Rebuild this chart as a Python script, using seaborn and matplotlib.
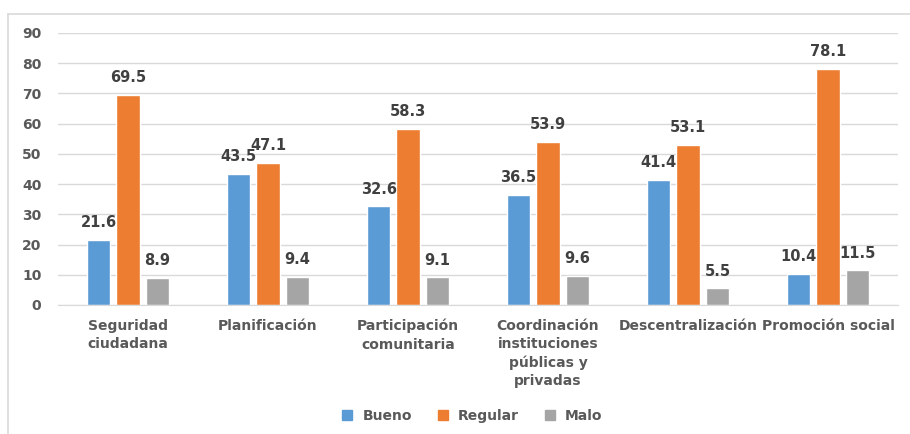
import pandas as pd
import matplotlib.pyplot as plt
import seaborn as sns
from matplotlib.lines import Line2D

categories = ["Seguridad\nciudadana", "Planificación", "Participación\ncomunitaria",
              "Coordinación\ninstituciones\npúblicas y\nprivadas", "Descentralización",
              "Promoción social"]
series = ["Bueno", "Regular", "Malo"]
bueno = [21.6, 43.5, 32.6, 36.5, 41.4, 10.4]
regular = [69.5, 47.1, 58.3, 53.9, 53.1, 78.1]
malo = [8.9, 9.4, 9.1, 9.6, 5.5, 11.5]
colors = ["#5B9BD5", "#ED7D31", "#A5A5A5"]

df = pd.DataFrame({
    "categoria": categories * 3,
    "serie": [s for s in series for _ in categories],
    "valor": bueno + regular + malo,
})

sns.set_style("white")
plt.rcParams['font.family'] = ['DejaVu Sans']
txt = "#595959"
fs = 10

fig = plt.figure(figsize=(9.1, 4.34), dpi=100)
ax = fig.add_axes([58 / 910, 1 - 305 / 434, 840 / 910, 272 / 434])

sns.barplot(data=df, x="categoria", y="valor", hue="serie", palette=colors,
            width=0.63, gap=0.2, ax=ax, legend=False, saturation=1)

for cont in ax.containers:
    ax.bar_label(cont, fmt="%.1f", padding=7, fontsize=fs + 0.5, fontweight="bold", color="#404040")

ax.set_ylim(0, 90)
ax.set_yticks(range(0, 91, 10))
ax.yaxis.grid(True, color="#D9D9D9", lw=1)
ax.set_axisbelow(True)
for s in ["top", "right", "left"]:
    ax.spines[s].set_visible(False)
ax.spines["bottom"].set_color("#D9D9D9")
ax.tick_params(axis="both", length=0, labelsize=fs, labelcolor=txt)
ax.tick_params(axis="y", pad=12)
ax.tick_params(axis="x", pad=10)
for lab in ax.get_xticklabels() + ax.get_yticklabels():
    lab.set_fontweight("bold")
for lab in ax.get_xticklabels():
    lab.set_linespacing(1.38)
ax.set_xlabel("")
ax.set_ylabel("")

handles = [Line2D([], [], marker="s", ls="", color=c, markersize=7) for c in colors]
leg = fig.legend(handles, series, loc="center", bbox_to_anchor=(468 / 910, 1 - 416 / 434),
                 ncol=3, frameon=False, handletextpad=0.1, columnspacing=1.2,
                 prop={"weight": "bold", "size": fs})
for t in leg.get_texts():
    t.set_color(txt)

# outer chart frame
fig.add_artist(Line2D([8 / 910, 8 / 910], [0, 1 - 14 / 434], color="#D9D9D9", lw=1.2))
fig.add_artist(Line2D([8 / 910, 1], [1 - 14 / 434, 1 - 14 / 434], color="#D9D9D9", lw=1.2))

plt.savefig("out.png", dpi=100)
